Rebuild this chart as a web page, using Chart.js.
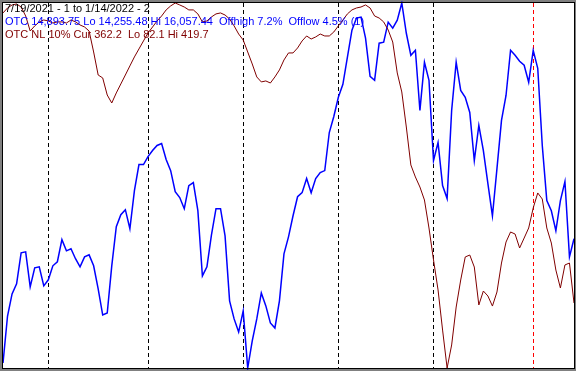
<!DOCTYPE html>
<html>
<head>
<meta charset="utf-8">
<script src="https://cdn.jsdelivr.net/npm/chart.js@4/dist/chart.umd.min.js"></script>
<style>
    html, body { margin: 0; padding: 0; background: #808080; }
    #wrap { width: 576px; height: 371px; }
</style>
</head>
<body>
<div id="wrap"><canvas id="chart" width="576" height="371"></canvas></div>
<script>
// Daily closes, 7/19/2021 .. 1/14/2022 (trading day index 0..126)
const otc = [
    14280, 14512, 14621, 14671, 14824, 14829, 14656, 14750, 14755, 14661,
    14691, 14760, 14780, 14889, 14834, 14844, 14795, 14755, 14804, 14814,
    14760, 14646, 14517, 14527, 14760, 14953, 15012, 15037, 14943, 15131,
    15260, 15260, 15299, 15329, 15354, 15364, 15285, 15230, 15126, 15097,
    15042, 15156, 15171, 15032, 14710, 14755, 14913, 15042, 15042, 14908,
    14587, 14498, 14433, 14537, 14255.48, 14389, 14498, 14626, 14562, 14478,
    14453, 14587, 14819, 14903, 15007, 15101, 15121, 15191, 15121, 15191,
    15220, 15230, 15418, 15497, 15592, 15656, 15790, 15923, 15983, 15988,
    15884, 15695, 15676, 15859, 15864, 15963, 15933, 15973, 16057.44, 15908,
    15799, 15824, 15527, 15765, 15676, 15280, 15369, 15156, 15092, 15527,
    15765, 15626, 15592, 15517, 15280, 15453, 15329, 15166, 15007, 15240,
    15478, 15601, 15824, 15799, 15770, 15750, 15666, 15824, 15735, 15354,
    15082, 15032, 14933, 15082, 15176, 14804, 14893.75
];
const otcNl = [
    410.5, 415.1, 417.9, 418.8, 416.0, 407.7, 393.8, 398.5, 402.2, 404.0,
    403.1, 401.2, 402.2, 402.2, 401.2, 404.0, 402.2, 399.4, 397.5, 393.8,
    374.4, 353.1, 350.4, 334.6, 327.2, 336.5, 344.8, 353.1, 361.5, 369.8,
    377.2, 384.6, 392.0, 397.5, 403.1, 407.7, 413.3, 417.0, 419.7, 417.9,
    416.0, 413.3, 413.3, 409.6, 402.2, 403.1, 406.8, 409.6, 410.5, 408.6,
    404.9, 398.5, 391.0, 385.5, 374.4, 363.3, 351.3, 346.7, 347.6, 345.7,
    351.3, 357.8, 367.0, 373.5, 373.5, 378.1, 384.6, 389.2, 386.4, 388.3,
    391.0, 389.2, 389.2, 392.9, 398.5, 404.0, 409.6, 413.3, 415.1, 416.0,
    417.9, 415.1, 407.7, 405.8, 402.2, 394.7, 383.6, 355.0, 337.4, 305.0,
    269.9, 258.8, 249.5, 237.5, 211.6, 182.0, 154.3, 117.2, 82.1, 103.4,
    138.5, 163.5, 184.8, 186.6, 175.5, 140.4, 153.3, 148.7, 139.4, 152.4,
    179.2, 198.6, 207.9, 206.0, 193.1, 202.3, 211.6, 230.1, 244.0, 238.4,
    211.6, 197.7, 172.7, 156.1, 177.4, 179.2, 142.2
];
// first trading day of each month (Aug, Sep, Oct, Nov, Dec, Jan)
const monthStarts = [10, 32, 53, 74, 95, 117];
const yearStart = 117;

const otcRange = [14255.48, 16057.44];
const nlRange = [82.1, 419.7];

const headerLines = [
    "7/19/2021 - 1 to 1/14/2022 - 2",
    "OTC 14,893.75 Lo 14,255.48 Hi 16,057.44  Offhigh 7.2%  Offlow 4.5% (1)",
    "OTC NL 10% Cur 362.2  Lo 82.1 Hi 419.7"
];
const headerColors = ["#000000", "#0000ff", "#800000"];

const toPoints = arr => arr.map((v, i) => ({ x: i, y: v }));

const framePlugin = {
    id: "frame",
    beforeDraw(chart) {
        const { ctx, chartArea: a } = chart;
        ctx.save();
        ctx.fillStyle = "#808080";
        ctx.fillRect(0, 0, chart.width, chart.height);
        ctx.fillStyle = "#ffffff";
        ctx.fillRect(a.left - 1, a.top - 1, a.right - a.left + 2, a.bottom - a.top + 2);
        ctx.restore();
    },
    afterDatasetsDraw(chart) {
        const { ctx, chartArea: a } = chart;
        ctx.save();
        ctx.font = '11px "Liberation Sans", Arial, sans-serif';
        ctx.textBaseline = "alphabetic";
        headerLines.forEach((t, i) => {
            ctx.fillStyle = headerColors[i];
            ctx.fillText(t, a.left + 2, a.top + 9 + i * 13);
        });
        ctx.strokeStyle = "#000000";
        ctx.lineWidth = 1;
        ctx.strokeRect(a.left - 0.5, a.top - 0.5, a.right - a.left + 1, a.bottom - a.top + 1);
        ctx.restore();
    }
};

new Chart(document.getElementById("chart"), {
    type: "line",
    data: {
        datasets: [
            {
                label: "OTC NL 10%",
                data: toPoints(otcNl),
                yAxisID: "yNl",
                borderColor: "#800000",
                borderWidth: 1,
                pointRadius: 0,
                tension: 0,
                clip: 2
            },
            {
                label: "OTC",
                data: toPoints(otc),
                yAxisID: "yOtc",
                borderColor: "#0000ff",
                borderWidth: 1.5,
                pointRadius: 0,
                tension: 0,
                clip: 2
            }
        ]
    },
    options: {
        responsive: false,
        animation: false,
        devicePixelRatio: 1,
        layout: { padding: { left: 3, top: 3, right: 2, bottom: 3 } },
        plugins: {
            legend: { display: false },
            tooltip: { enabled: false },
            title: { display: false }
        },
        scales: {
            x: {
                type: "linear",
                min: 0,
                max: otc.length - 1,
                afterBuildTicks: axis => {
                    axis.ticks = monthStarts.map(v => ({ value: v }));
                },
                ticks: { display: false },
                grid: {
                    drawTicks: false,
                    lineWidth: 1,
                    color: ctx => ctx.tick && ctx.tick.value === yearStart ? "#ff0000" : "#000000"
                },
                border: { display: false, dash: [4, 3] }
            },
            yOtc: {
                type: "linear",
                display: false,
                min: otcRange[0],
                max: otcRange[1]
            },
            yNl: {
                type: "linear",
                display: false,
                min: nlRange[0],
                max: nlRange[1]
            }
        }
    },
    plugins: [framePlugin]
});
</script>
</body>
</html>
